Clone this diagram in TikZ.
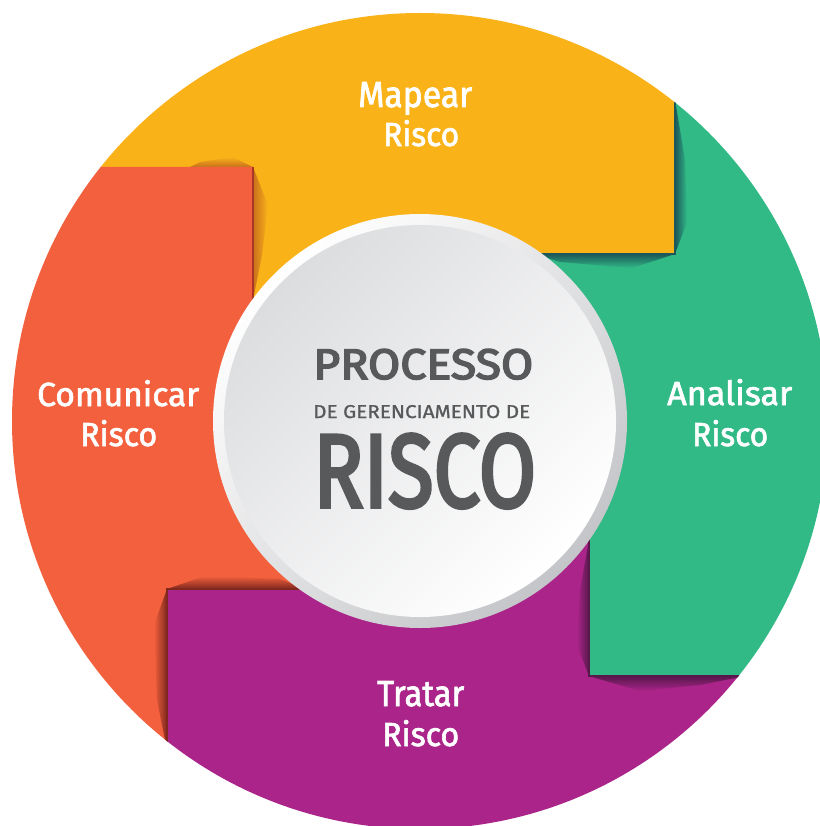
\documentclass[tikz,border=0pt]{standalone}
\usepackage{fontspec}
\setmainfont{Fira Sans}
\newfontfamily\lblfont{Fira Sans}[FakeBold=2.0]
\newfontfamily\ctrfont{Fira Sans}[FakeBold=3.5]
\newfontfamily\subfont{Fira Sans}[FakeBold=1.0]
\usepackage{graphicx}
\definecolor{myyellow}{RGB}{250,178,25}
\definecolor{myorange}{RGB}{242,96,61}
\definecolor{mygreen}{RGB}{49,185,134}
\definecolor{mypurple}{RGB}{170,36,137}
\definecolor{yshadow}{RGB}{200,112,28}
\definecolor{gshadow}{RGB}{28,88,90}
\definecolor{pshadow}{RGB}{88,24,76}
\definecolor{oshadow}{RGB}{128,40,30}
\definecolor{oedge}{RGB}{170,55,35}
\definecolor{textgray}{RGB}{88,89,91}
\definecolor{ringgray}{RGB}{196,197,200}
\definecolor{facegray}{RGB}{220,221,223}
\tikzset{
  lbl/.style={text=white, inner sep=0pt, anchor=base west, font=\lblfont\fontsize{30pt}{36pt}\selectfont},
  ctr/.style={text=textgray, inner sep=0pt, anchor=base west, font=\ctrfont\fontsize{30pt}{36pt}\selectfont},
  edgeline/.style={line width=1.2pt}
}
\begin{document}
\begin{tikzpicture}[x=1pt,y=-1pt]
\useasboundingbox (0,0) rectangle (819,826);
\fill[white] (0,0) rectangle (819,826);
\coordinate (c) at (420,421);
\begin{scope}
\clip (c) circle (408pt);
% pieces
\fill[myyellow] (253,421) -- (253,167) -- (-20,167) -- (-20,-20) -- (675,-20) -- (675,254) -- (420,254) -- (420,421) -- cycle;
\fill[myorange] (253,421) -- (253,167) -- (-20,167) -- (-20,850) -- (167,850) -- (167,589) -- (420,589) -- (420,421) -- cycle;
\fill[mygreen] (420,254) -- (675,254) -- (675,-20) -- (850,-20) -- (850,676) -- (589,676) -- (589,421) -- (420,421) -- cycle;
\fill[mypurple] (589,421) -- (589,676) -- (850,676) -- (850,850) -- (167,850) -- (167,589) -- (420,589) -- (420,421) -- cycle;
% shadows: orange tab on yellow
\shade[left color=yshadow, right color=myyellow] (253,167) -- (268,205) -- (262,255) -- (253,300) -- cycle;
\shade[bottom color=yshadow, top color=myyellow] (253,167) -- (232,157) -- (200,162) -- (190,167) -- cycle;
% yellow tab on green
\shade[left color=gshadow, right color=mygreen] (675,254) -- (687,222) -- (685,160) -- (675,100) -- cycle;
\shade[top color=gshadow, bottom color=mygreen] (675,254) -- (632,268) -- (560,262) -- (535,254) -- cycle;
% green tab on purple
\shade[right color=pshadow, left color=mypurple] (589,676) -- (577,645) -- (580,590) -- (589,540) -- cycle;
\shade[top color=pshadow, bottom color=mypurple] (589,676) -- (640,691) -- (700,685) -- (745,676) -- cycle;
% purple tab on orange
\shade[bottom color=oshadow, top color=myorange] (167,589) -- (205,576) -- (280,579) -- (305,589) -- cycle;
\shade[right color=oshadow, left color=myorange] (167,589) -- (154,625) -- (157,700) -- (167,750) -- cycle;
% tab edges
\draw[edgeline, oedge] (253,310) -- (253,167);
\draw[edgeline, gshadow] (675,90) -- (675,254) -- (535,254);
\draw[edgeline, pshadow] (589,530) -- (589,676) -- (750,676);
\draw[edgeline, oshadow] (167,760) -- (167,589) -- (310,589);
\end{scope}
% central disc
\shade[top color=white, bottom color=ringgray, shading angle=45] (c) circle (207pt);
\shade[top color=facegray, bottom color=white, shading angle=45] (c) circle (196pt);
% labels
\node[lbl] (mapear) at (358,107) {\resizebox{114pt}{25pt}{Mapear}};
\node[lbl] (riscoA) at (383,146) {\resizebox{76pt}{26pt}{Risco}};
\node[lbl] (comunicar) at (37,406) {\resizebox{162pt}{26pt}{Comunicar}};
\node[lbl] (riscoB) at (80,446) {\resizebox{77pt}{26pt}{Risco}};
\node[lbl] (analisar) at (667,405) {\resizebox{125pt}{26pt}{Analisar}};
\node[lbl] (riscoC) at (692,446) {\resizebox{76pt}{26pt}{Risco}};
\node[lbl] (tratar) at (377,706) {\resizebox{87pt}{25pt}{Tratar}};
\node[lbl] (riscoD) at (382,746) {\resizebox{77pt}{26pt}{Risco}};
% center text
\node[ctr] (processo) at (313,379) {\resizebox{220pt}{30pt}{PROCESSO}};
\node[ctr] (degerenc) at (313,418) {\resizebox{217pt}{13pt}{\subfont DE GERENCIAMENTO DE}};
\node[ctr] (risco) at (313,507) {\resizebox{223pt}{73pt}{RISCO}};
\end{tikzpicture}
\end{document}
